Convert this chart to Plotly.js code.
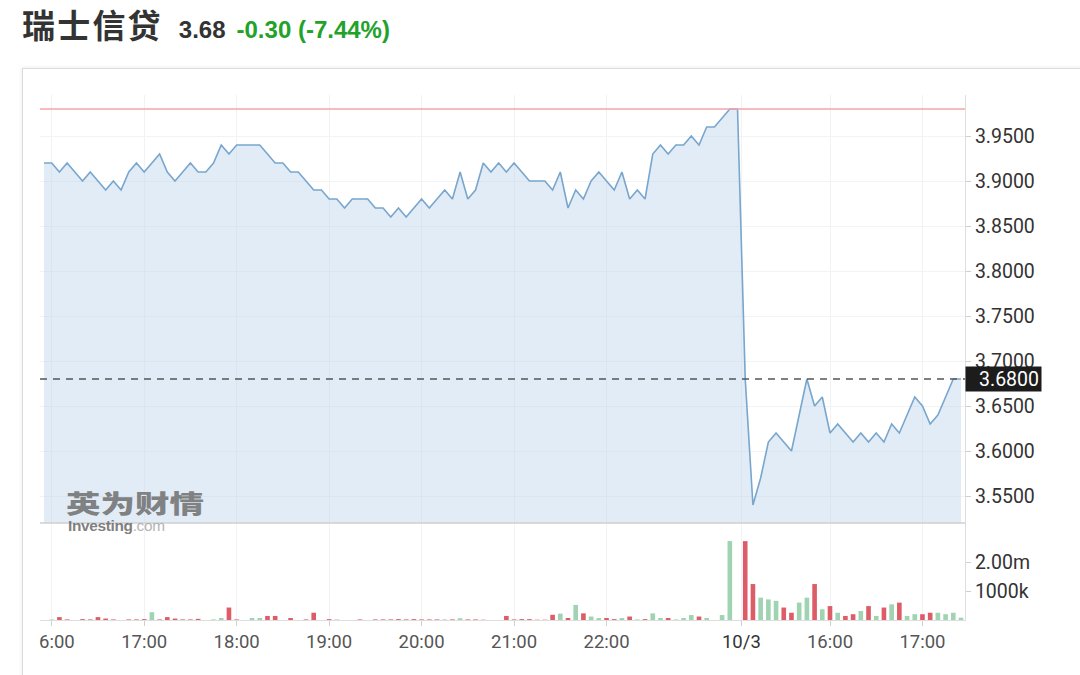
<!DOCTYPE html>
<html>
<head>
<meta charset="utf-8">
<script src="https://cdn.plot.ly/plotly-3.0.1.min.js"></script>
<style>
html,body{margin:0;padding:0;background:#fff;width:1080px;height:675px;overflow:hidden;}
#card{position:absolute;left:22px;top:68px;width:1070px;height:620px;border-left:1px solid #dcdcdc;border-top:1px solid #dcdcdc;box-shadow:-1px -1px 3px rgba(0,0,0,0.06);}
#chart{position:absolute;left:0;top:0;width:1080px;height:675px;}
#head{position:absolute;left:22px;top:4px;height:42px;display:flex;align-items:baseline;white-space:nowrap;}
#name{display:inline-block;font-family:"Noto Sans CJK SC",sans-serif;font-weight:700;font-size:33px;line-height:40px;height:40px;color:#333;letter-spacing:2.2px;}
#last{display:inline-block;font-family:"Liberation Sans",Arial,sans-serif;font-weight:700;font-size:24px;line-height:28px;color:#333;margin-left:16px;}
#chg{display:inline-block;font-family:"Liberation Sans",Arial,sans-serif;font-weight:700;font-size:24px;line-height:28px;color:#22a22a;margin-left:11px;}
#mask{position:absolute;left:23px;top:626px;width:15px;height:36px;background:#fff;z-index:5;}
#wm1{position:absolute;left:66px;top:490px;line-height:25px;height:25px;font-family:"Noto Sans CJK SC",sans-serif;font-weight:900;font-size:25px;color:#6f6f6f;transform:scaleX(1.38);transform-origin:left top;opacity:0.85;z-index:4;}
#wm2{position:absolute;left:68px;top:519px;line-height:15px;height:15px;font-family:"Liberation Sans",Arial,sans-serif;font-size:14px;color:#777;transform:scaleX(1.1);transform-origin:left top;opacity:0.85;z-index:4;letter-spacing:-0.3px;}
#wm2 b{color:#6a6a6a;}
#wm2 span{color:#a8a8a8;font-weight:400;}
</style>
</head>
<body>
<div id="card"></div>
<div id="chart"></div>
<div id="head"><span id="name"></span><span id="last"></span><span id="chg"></span></div>
<div id="mask"></div>
<div id="wm1">英为财情</div>
<div id="wm2"><b>Investing</b><span>.com</span></div>
<script>
// ---- header values ----
const stockName = "瑞士信贷";
const lastPrice = 3.68;
const priceChange = -0.30;
const pctChange = -7.44;
const prevClose = 3.98;

// ---- price series (5-minute closes) ----
// session 1 (10/2, 15:55 .. 23:25)
const priceSession1 = [
  3.92,3.92,3.91,3.92,3.91,3.90,3.91,3.90,3.89,3.90,
  3.89,3.91,3.92,3.91,3.92,3.93,3.91,3.90,3.91,3.92,
  3.91,3.91,3.92,3.94,3.93,3.94,3.94,3.94,3.94,3.93,
  3.92,3.92,3.91,3.91,3.90,3.89,3.89,3.88,3.88,3.87,
  3.88,3.88,3.88,3.87,3.87,3.86,3.87,3.86,3.87,3.88,
  3.87,3.88,3.89,3.88,3.91,3.88,3.89,3.92,3.91,3.92,
  3.91,3.92,3.91,3.90,3.90,3.90,3.89,3.91,3.87,3.89,
  3.88,3.90,3.91,3.90,3.89,3.91,3.88,3.89,3.88,3.93,
  3.94,3.93,3.94,3.94,3.95,3.94,3.96,3.96,3.97,3.98,
  3.98
];
// session 2 (10/3, 15:05 .. 17:25)
const priceSession2 = [
  3.68,3.54,3.57,3.61,3.62,3.61,3.60,3.64,3.68,3.65,
  3.66,3.62,3.63,3.62,3.61,3.62,3.61,3.62,3.61,3.63,
  3.62,3.64,3.66,3.65,3.63,3.64,3.66,3.68,3.68
];

// ---- volume (millions) and bar direction (u = up / green, d = down / red) ----
const volSession1 = [
  0,0.02,0.10,0.02,0,0.03,0.02,0.10,0.05,0.02,
  0,0.02,0.02,0.03,0.27,0.02,0.10,0.05,0.02,0.02,
  0.04,0,0.02,0.07,0.43,0.02,0,0.07,0.07,0.14,
  0.14,0,0.07,0,0.02,0.25,0,0.03,0.01,0,
  0,0.02,0,0.02,0.02,0.02,0.03,0.02,0.03,0.02,
  0.02,0.02,0.02,0.02,0.06,0.02,0.02,0.01,0,0,
  0.14,0.02,0.03,0.03,0.01,0.01,0.18,0.22,0.07,0.52,
  0.23,0.12,0.07,0.07,0.03,0.07,0.12,0.02,0.03,0.23,
  0.07,0.07,0.02,0.07,0.17,0.12,0.07,0,0.17,2.72,
  0
];
const dirSession1 = "dudddddddd" + "dddduddddd" + "dduuddduud" + "dddddddddd" + "dddddddddd" +
                    "ddududdddd" + "dddddddudu" + "duuddududu" + "uduuududuu" + "d";
const volSession2 = [
  2.72,1.24,0.77,0.71,0.66,0.43,0.25,0.60,0.77,1.24,
  0.37,0.48,0.25,0.14,0.20,0.31,0.48,0.14,0.43,0.54,
  0.60,0.14,0.20,0.20,0.25,0.25,0.20,0.25,0.08
];
const dirSession2 = "dduuudduudududdudududuudduuuu";

// ---- x-axis tick labels (positions are bar indices) ----
const tickIdx  = [1, 13, 25, 37, 49, 61, 73, 90.5, 102, 114];
const tickText = ["16:00","17:00","18:00","19:00","20:00","21:00","22:00",
                  '<span style="color:#333">10/3</span>',"16:00","17:00"];
// ---- axis ticks ----
const priceTicks = [3.55,3.60,3.65,3.70,3.75,3.80,3.85,3.90,3.95];
const volTicks = [1, 2];
const volTickText = ["1000k", "2.00m"];

// header
document.getElementById('name').textContent = stockName;
document.getElementById('last').textContent = lastPrice.toFixed(2);
document.getElementById('chg').textContent = priceChange.toFixed(2) + " (" + pctChange.toFixed(2) + "%)";

const prices = priceSession1.concat(priceSession2);
const vols = volSession1.concat(volSession2);
const dirs = (dirSession1 + dirSession2).split("");
const xs = prices.map((_, i) => i);
const UP = '#9fd3b1', DOWN = '#dc5d67';

const fontFam = 'Roboto, "Liberation Sans", Arial, sans-serif';
const volDomTop = 97 / 525;

const traces = [
  {
    x: xs, y: prices, type: 'scatter', mode: 'lines', yaxis: 'y2', xaxis: 'x',
    line: {color: '#78a6cd', width: 1.6},
    fill: 'tozeroy', fillcolor: 'rgba(190,212,234,0.45)',
    hoverinfo: 'skip'
  },
  {
    x: xs, y: vols, type: 'bar', yaxis: 'y', xaxis: 'x',
    marker: {color: dirs.map(d => d === 'u' ? UP : DOWN)},
    width: 0.6, hoverinfo: 'skip'
  }
];

const layout = {
  width: 1080, height: 675,
  margin: {l: 40, r: 115, t: 95, b: 55},
  paper_bgcolor: 'rgba(0,0,0,0)', plot_bgcolor: 'rgba(0,0,0,0)',
  showlegend: false,
  font: {family: fontFam, color: '#333'},
  xaxis: {
    range: [-0.52, 119.52], anchor: 'y',
    tickmode: 'array', tickvals: tickIdx, ticktext: tickText,
    ticks: 'outside', ticklen: 5, tickcolor: '#cfcfcf',
    showgrid: true, gridcolor: '#f2f2f2', gridwidth: 1,
    showline: true, linecolor: '#dedede', linewidth: 1,
    zeroline: false,
    tickfont: {size: 18.5, color: '#555', family: fontFam}
  },
  yaxis: {
    domain: [0, volDomTop], range: [0, 3.345], side: 'right',
    tickmode: 'array', tickvals: volTicks, ticktext: volTickText,
    ticks: 'outside', ticklen: 5, tickcolor: '#cfcfcf',
    showgrid: false, zeroline: false,
    showline: true, linecolor: '#dedede', linewidth: 1,
    tickfont: {size: 19.5, color: '#333', family: fontFam}
  },
  yaxis2: {
    domain: [volDomTop, 1], range: [3.52, 3.99556], side: 'right', anchor: 'x',
    tickmode: 'array', tickvals: priceTicks, ticktext: priceTicks.map(v => v.toFixed(4)),
    ticks: 'outside', ticklen: 5, tickcolor: '#cfcfcf',
    showgrid: true, gridcolor: '#f3f3f3', gridwidth: 1, zeroline: false,
    showline: true, linecolor: '#dedede', linewidth: 1,
    tickfont: {size: 19.5, color: '#333', family: fontFam}
  },
  shapes: [
    {type: 'line', xref: 'paper', x0: 0, x1: 1, yref: 'y2', y0: prevClose, y1: prevClose,
     line: {color: '#f4a3aa', width: 1.5}},
    {type: 'line', xref: 'paper', x0: 0, x1: 1, yref: 'y2', y0: lastPrice, y1: lastPrice,
     line: {color: '#555', width: 1.6, dash: '7px,6px'}},
    {type: 'line', xref: 'paper', x0: 0, x1: 1, yref: 'paper', y0: volDomTop, y1: volDomTop,
     line: {color: '#cfcfcf', width: 1.5}}
  ],
  annotations: [
    {xref: 'paper', x: 1, xanchor: 'left', yref: 'y2', y: lastPrice, yanchor: 'middle',
     text: lastPrice.toFixed(4), showarrow: false, bgcolor: '#1c1c1c', borderpad: 2,
     width: 71, height: 20, align: 'right',
     font: {family: fontFam, size: 19.5, color: '#fff'}}
  ]
};

Plotly.newPlot('chart', traces, layout, {staticPlot: true, displayModeBar: false});
</script>
</body>
</html>
